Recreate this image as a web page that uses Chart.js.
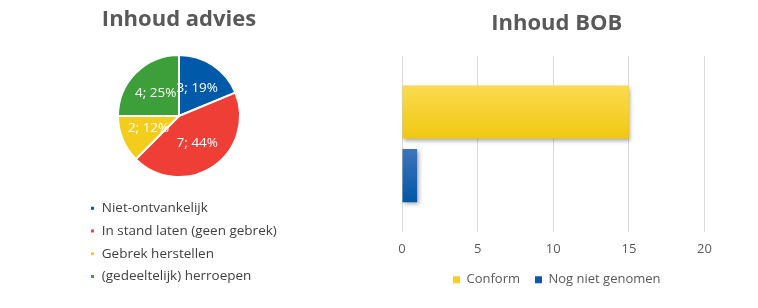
<!DOCTYPE html>
<html><head><meta charset="utf-8">
<script src="https://cdn.jsdelivr.net/npm/chart.js@4.4.1/dist/chart.umd.min.js"></script>
<style>
html,body{margin:0;padding:0;background:#fff;}
#wrap{position:relative;width:758px;height:308px;overflow:hidden;background:#fff;}
#c1box{position:absolute;left:0;top:0;width:370px;height:308px;}
#c2box{position:absolute;left:380px;top:0;width:378px;height:308px;}
</style></head><body>
<div id="wrap"><div id="c1box"><canvas id="pie"></canvas></div><div id="c2box"><canvas id="bar"></canvas></div></div>
<script>
// ---- data ----
const adviesLabels = ['Niet-ontvankelijk', 'In stand laten (geen gebrek)', 'Gebrek herstellen', '(gedeeltelijk) herroepen'];
const adviesValues = [3, 7, 2, 4];
const adviesPercent = [19, 44, 12, 25];
const adviesColors = ['#005aa9', '#ef3e36', '#f4cd1c', '#3c9f3a'];

const bobCategories = [''];
const bobSeriesNames = ['Conform', 'Nog niet genomen'];
const bobConform = [15];
const bobNogNiet = [1];
const bobTicks = [0, 5, 10, 15, 20];

// ---- setup ----
Chart.defaults.font.family = "'Open Sans', sans-serif";
Chart.defaults.animation = false;
const PIE_FONT = 13.5;
const BAR_FONT = 13;

const pieLabelPlugin = {
  id: 'pieLabels',
  afterDatasetsDraw(chart) {
    const ctx = chart.ctx;
    const meta = chart.getDatasetMeta(0);
    ctx.save();
    ctx.fillStyle = '#ffffff';
    ctx.font = PIE_FONT + "px 'Open Sans', sans-serif";
    ctx.textAlign = 'center';
    ctx.textBaseline = 'middle';
    meta.data.forEach((arc, i) => {
      const mid = (arc.startAngle + arc.endAngle) / 2;
      const r = arc.outerRadius * 0.54;
      ctx.fillText(adviesValues[i] + '; ' + adviesPercent[i] + '%', arc.x + Math.cos(mid) * r, arc.y + Math.sin(mid) * r);
    });
    ctx.restore();
  }
};

new Chart(document.getElementById('pie'), {
  type: 'pie',
  data: {
    labels: adviesLabels,
    datasets: [{
      data: adviesValues,
      backgroundColor: adviesColors,
      borderColor: '#ffffff',
      borderWidth: 2,
      radius: 61
    }]
  },
  options: {
    responsive: true,
    maintainAspectRatio: false,
    layout: { padding: { left: 80.8, right: 92.8, top: 0, bottom: 14.85 } },
    plugins: {
      title: {
        display: true,
        text: 'Inhoud advies',
        color: '#595959',
        font: { size: 22, weight: 'bold' },
        padding: { top: 7, bottom: 6.25 }
      },
      legend: {
        position: 'bottom',
        align: 'start',
        labels: {
          boxWidth: 5,
          boxHeight: 5,
          padding: 9.2,
          color: '#404040',
          font: { size: PIE_FONT }
        }
      },
      tooltip: { enabled: false }
    }
  },
  plugins: [pieLabelPlugin]
});

const CAT_PCT = 0.723;
const BAR_PCT = 0.835;
function barFill(topColor, bottomColor, dsIndex) {
  return (c) => {
    const chart = c.chart;
    const ys = chart.scales.y;
    if (c.type !== 'data' || !ys || !chart.chartArea) return bottomColor;
    const band = (ys.bottom - ys.top) / bobCategories.length;
    const center = ys.getPixelForValue(c.dataIndex);
    const slot = band * CAT_PCT / 2;
    const bc = center - band * CAT_PCT / 2 + slot * (dsIndex + 0.5);
    const h = slot * BAR_PCT;
    const g = chart.ctx.createLinearGradient(0, bc - h / 2, 0, bc + h / 2);
    g.addColorStop(0, topColor);
    g.addColorStop(1, bottomColor);
    return g;
  };
}
const legendSolid = ['#f5d01e', '#0a5aa8'];

const shadowPlugin = {
  id: 'barShadow',
  beforeDatasetsDraw(chart) {
    const c = chart.ctx;
    c.save();
    c.shadowColor = 'rgba(0,0,0,0.32)';
    c.shadowBlur = 4;
    c.shadowOffsetX = 1.5;
    c.shadowOffsetY = 2;
  },
  afterDatasetsDraw(chart) { chart.ctx.restore(); }
};

new Chart(document.getElementById('bar'), {
  type: 'bar',
  data: {
    labels: bobCategories,
    datasets: [
      { label: bobSeriesNames[0], data: bobConform, backgroundColor: barFill('#fbdb4e', '#f0c812', 0), borderWidth: 0, categoryPercentage: CAT_PCT, barPercentage: BAR_PCT },
      { label: bobSeriesNames[1], data: bobNogNiet, backgroundColor: barFill('#3e75bb', '#0157a6', 1), borderWidth: 0, categoryPercentage: CAT_PCT, barPercentage: BAR_PCT }
    ]
  },
  options: {
    indexAxis: 'y',
    responsive: true,
    maintainAspectRatio: false,
    layout: { padding: { left: 22, right: 46.5, top: 0, bottom: 11.8 } },
    scales: {
      x: {
        min: 0,
        max: 20,
        afterBuildTicks(scale) { scale.ticks = bobTicks.map(v => ({ value: v })); },
        afterFit(scale) { scale.height = 26.5; },
        grid: { color: '#d9d9d9', lineWidth: 1, drawTicks: false, tickLength: 0 },
        border: { display: false },
        ticks: { color: '#595959', font: { size: BAR_FONT }, padding: 9.5 }
      },
      y: {
        position: 'right',
        grid: { display: false, drawTicks: false },
        border: { display: false },
        ticks: { display: false },
        afterFit(scale) { scale.width = 7; }
      }
    },
    plugins: {
      title: {
        display: true,
        text: 'Inhoud BOB',
        color: '#595959',
        font: { size: 22, weight: 'bold' },
        padding: { top: 10.3, bottom: 19.3 }
      },
      legend: {
        position: 'bottom',
        labels: {
          boxWidth: 7,
          boxHeight: 7,
          padding: 15,
          color: '#595959',
          font: { size: BAR_FONT },
          generateLabels(chart) {
            const items = Chart.defaults.plugins.legend.labels.generateLabels(chart);
            items.forEach((it, i) => { it.fillStyle = legendSolid[i]; it.strokeStyle = legendSolid[i]; it.lineWidth = 0; });
            return items;
          }
        }
      },
      tooltip: { enabled: false }
    }
  },
  plugins: [shadowPlugin]
});
</script>
</body></html>
